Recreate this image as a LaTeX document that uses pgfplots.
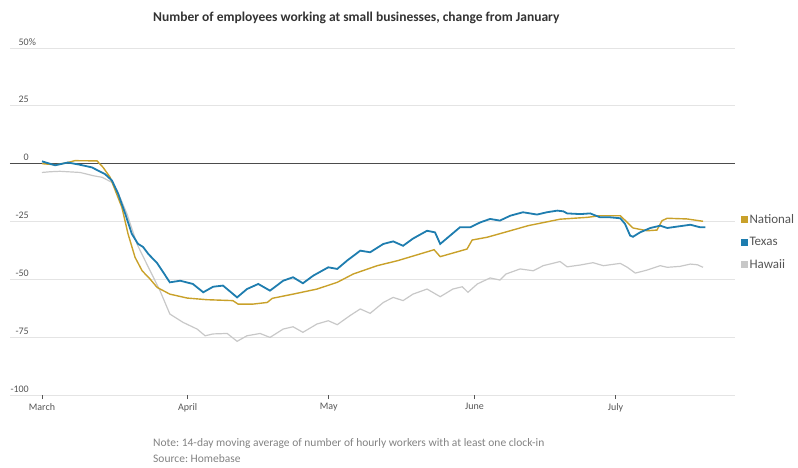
\documentclass[border=0pt]{standalone}
\usepackage{fontspec}
\setmainfont{Carlito}
\usepackage{pgfplots}
\pgfplotsset{compat=1.18}
\definecolor{natc}{RGB}{201,161,42}
\definecolor{texc}{RGB}{30,125,175}
\definecolor{hawc}{RGB}{200,200,200}
\definecolor{gridc}{RGB}{228,228,228}
\definecolor{txtc}{RGB}{85,85,85}
\definecolor{notec}{RGB}{130,130,130}
\frenchspacing
\begin{document}
\begin{tikzpicture}[x=1pt,y=1pt]
\path[use as bounding box] (0,0) rectangle (798,467);
\begin{axis}[
 at={(10pt,72pt)}, anchor=south west,
 scale only axis, width=725pt, height=347pt,
 xmin=-6.8, xmax=147.4, ymin=-100, ymax=50,
 axis line style={draw=none},
 ytick={-100,-75,-50,-25,0,25,50},
 yticklabels={-100,-75,-50,-25,0,25,50\rlap{\%}},
 ymajorgrids, grid style={gridc, line width=0.7pt},
 ytick style={draw=none},
 yticklabel style={anchor=base east, inner sep=0pt, xshift=23pt, yshift=3pt, font=\fontsize{10}{12}\selectfont, text=txtc},
 xtick={0,31,61,92,122}, xticklabels={March,April,May,June,July},
 xtick pos=bottom, tick align=outside, major tick length=4pt,
 xtick style={txtc, line width=0.6pt},
 xticklabel style={anchor=north, inner sep=1pt, yshift=-3pt, font=\fontsize{10}{12}\selectfont, text=txtc},
 legend style={at={(1.008,0.5245)}, anchor=north west, draw=none, fill=none, inner sep=0pt, row sep=9pt, font=\fontsize{13}{15}\selectfont, text=txtc, nodes={inner sep=1.5pt}},
 legend cell align=left,
 legend image code/.code={\fill[#1,draw=none] (0pt,-3.5pt) rectangle (7pt,3.5pt);},
]
\addplot[black!70, line width=1.3pt, forget plot] coordinates {(-6.8,0)(147.4,0)};
\addplot[hawc, line width=1.2pt, forget plot] coordinates {
(0,-3.8)(1.7,-3.5)(3.8,-3.3)(8.1,-3.8)(10.9,-5.2)(12.8,-5.9)(14.9,-8.1)(16,-11.7)(18.1,-21.8)(20.2,-34.7)(22.3,-43.4)(25.1,-54.9)(27.2,-65)(30,-68.6)(33,-71.5)(34.7,-74.4)(36.4,-73.6)(39.4,-73.4)(41.5,-76.8)(43.6,-74.4)(46.4,-73.4)(48.5,-75.1)(51.3,-71.5)(53.4,-70.5)(55.5,-72.9)(58.5,-69.3)(60.9,-67.9)(62.8,-69.6)(65.5,-65.7)(67.7,-62.8)(69.8,-64.7)(72.6,-60)(74.7,-57.8)(76.8,-59.2)(78.9,-56.4)(81.9,-54.2)(84.7,-57.5)(87.4,-54.2)(89.4,-53.2)(90.6,-55.6)(92.6,-52)(95.3,-49.4)(97.4,-50.3)(98.7,-47.7)(101.7,-45.5)(104.5,-46.3)(106.6,-44.1)(110.2,-42.3)(111.7,-44.6)(114.5,-43.8)(117.2,-42.8)(119.4,-44.1)(123,-43.1)(124.5,-44.8)(126.2,-47.3)(128.7,-46)(131.5,-44.1)(133,-44.8)(135.7,-44.4)(137.9,-43.4)(139.4,-43.7)(140.6,-44.8)};
\addplot[natc, line width=1.4pt, forget plot] coordinates {
(0,0)(3,-0.5)(5.5,0.5)(7,1.3)(11.7,1.2)(13,-1.6)(14.5,-5.9)(17,-18.9)(18.3,-30.3)(19.8,-40.5)(21.3,-46.3)(23,-49.9)(24.5,-53.5)(27.2,-56.4)(30.9,-58.1)(35.1,-58.8)(40.6,-59.2)(41.7,-60.7)(44.9,-60.7)(47.9,-60)(49,-58.2)(53.4,-56.4)(58.5,-54.2)(62.8,-51.3)(66.2,-47.7)(71.3,-44.1)(75.7,-41.9)(83.4,-37.2)(84.7,-40.2)(90.4,-36.9)(91.5,-33)(94.7,-31.8)(99.6,-29)(103.4,-26.8)(110.2,-24)(116,-23.2)(118.7,-22.5)(123,-22.5)(124.5,-25.4)(125.7,-27.8)(128.7,-29)(130.8,-28.7)(131.9,-24.6)(133,-23.6)(137.2,-23.9)(140.6,-24.9)};
\addplot[texc, line width=1.8pt, forget plot] coordinates {
(0,1.0)(2.8,-0.7)(5.5,0.5)(7.9,-0.4)(10.6,-1.6)(13.4,-4.5)(14.9,-7.3)(16.2,-13)(17.7,-21.6)(19.1,-30.3)(20.4,-34.6)(21.5,-36)(22.6,-39)(24.5,-43)(27.2,-51.3)(29.4,-50.6)(32.1,-52)(34.3,-55.6)(36.4,-53.2)(38.5,-52.7)(41.5,-57.8)(43.6,-54.2)(46.0,-52)(48.5,-54.9)(51.3,-50.6)(53.4,-49.1)(55.5,-51.7)(57.7,-48.4)(60.9,-44.8)(62.8,-45.5)(64.9,-41.9)(67.7,-37.6)(69.8,-38.3)(72.6,-34.7)(74.7,-33.6)(76.8,-35.5)(78.9,-32.4)(81.9,-29)(83.6,-29.7)(84.7,-34.7)(86.8,-31.1)(88.9,-27.5)(91.1,-27.5)(93.2,-25.4)(95.3,-23.9)(97.4,-24.6)(99.6,-22.5)(102.3,-21)(105.3,-22)(107.4,-21)(109.6,-20.3)(110.9,-20.6)(111.7,-21.5)(114.5,-21.8)(116.6,-21.5)(118.7,-23.2)(120.9,-23.2)(123.0,-23.6)(124.0,-26)(125.1,-31.1)(125.7,-31.6)(127.2,-29.7)(129.4,-27.8)(131.5,-26.8)(133.0,-27.8)(135.1,-27.2)(137.9,-26.4)(140.0,-27.5)(141.1,-27.5)};
\addlegendimage{natc}
\addlegendentry{National}
\addlegendimage{texc}
\addlegendentry{Texas}
\addlegendimage{hawc}
\addlegendentry{Hawaii}
\end{axis}
\node[anchor=west, inner sep=0pt, text=black!80, font=\bfseries\fontsize{13.5}{15}\selectfont] at (153,449) {Number of employees working at small businesses, change from January};
\node[anchor=west, inner sep=0pt, text=notec, font=\fontsize{11.5}{13}\selectfont] at (153,24) {Note: 14-day moving average of number of hourly workers with at least one clock-in};
\node[anchor=west, inner sep=0pt, text=notec, font=\fontsize{11.5}{13}\selectfont] at (153,8) {Source: Homebase};
\end{tikzpicture}
\end{document}
